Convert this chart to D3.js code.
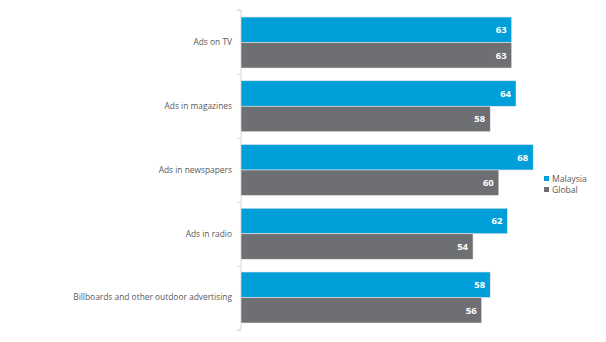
<!DOCTYPE html>
<html><head><meta charset="utf-8">
<script src="https://cdn.jsdelivr.net/npm/d3@7"></script>
<style>body{margin:0;background:#fff;} svg{display:block;}</style>
</head><body><svg id="c" width="606" height="342"></svg>
<script>
const categories = ["Ads on TV","Ads in magazines","Ads in newspapers","Ads in radio","Billboards and other outdoor advertising"];
const malaysia = [63,64,68,62,58];
const global = [63,58,60,54,56];
const seriesNames = ["Malaysia","Global"];
const colors = ["#009fda","#6e6f73"];

const svg = d3.select("#c");
const font = "'Open Sans', sans-serif";
const x = d3.scaleLinear().domain([0,100]).range([241, 670.7]);
const y = d3.scaleBand().domain(categories).range([10, 330]).paddingInner(0.2).paddingOuter(0.11);
const sub = d3.scaleBand().domain(seriesNames).range([0, y.bandwidth()]);

// axis
const yAxis = d3.axisLeft(d3.scalePoint().domain(d3.range(6)).range([10,330])).tickSize(4).tickFormat("");
const ax = svg.append("g").attr("transform","translate(241,0)").call(yAxis);
ax.selectAll("path,line").attr("stroke","#d9d9d9");
ax.select(".domain").attr("d","M-4,10H0V330H-4");

const data = [malaysia, global];
data.forEach((vals, si) => {
  const g = svg.append("g");
  g.selectAll("rect").data(categories).join("rect")
    .attr("x", x(0))
    .attr("y", c => y(c) + sub(seriesNames[si]))
    .attr("width", (c,i) => x(vals[i]) - x(0))
    .attr("height", sub.bandwidth())
    .attr("fill", colors[si])
    .attr("stroke", "#e8e8e8").attr("stroke-width", 0.6);
  g.selectAll("text").data(categories).join("text")
    .attr("x", (c,i) => x(vals[i]) - 5)
    .attr("y", c => y(c) + sub(seriesNames[si]) + sub.bandwidth()/2)
    .attr("dy","0.35em")
    .attr("text-anchor","end")
    .attr("font-family", font).attr("font-size", 9.5).attr("font-weight","bold")
    .attr("fill","#fff")
    .text((c,i) => vals[i]);
});

svg.append("g").selectAll("text").data(categories).join("text")
  .attr("x", 232)
  .attr("y", c => y(c) + y.bandwidth()/2)
  .attr("dy","0.35em")
  .attr("text-anchor","end")
  .attr("font-family", font).attr("font-size", 8.4)
  .attr("fill","#595959")
  .text(c => c);

const lg = svg.append("g").attr("transform","translate(544,175)");
seriesNames.forEach((n,i) => {
  lg.append("rect").attr("x",0).attr("y", i*11 + 1).attr("width",5).attr("height",5).attr("fill",colors[i]);
  lg.append("text").attr("x",8).attr("y", i*11 + 3.5).attr("dy","0.35em")
    .attr("font-family", font).attr("font-size", 8.6).attr("fill","#595959").text(n);
});
</script></body></html>
